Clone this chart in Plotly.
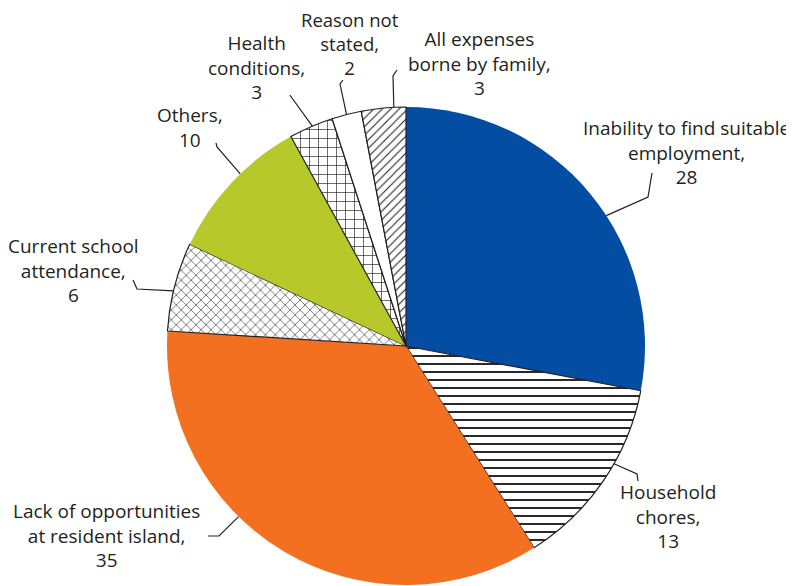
import math
import plotly.graph_objects as go

# ---- data ----
categories = [
    "Inability to find suitable employment",
    "Household chores",
    "Lack of opportunities at resident island",
    "Current school attendance",
    "Others",
    "Health conditions",
    "Reason not stated",
    "All expenses borne by family",
]
values = [28, 13, 35, 6, 10, 3, 2, 3]
label_texts = [
    "Inability to find suitable<br>employment,<br>28",
    "Household<br>chores,<br>13",
    "Lack of opportunities<br>at resident island,<br>35",
    "Current school<br>attendance,<br>6",
    "Others,<br>10",
    "Health<br>conditions,<br>3",
    "Reason not<br>stated,<br>2",
    "All expenses<br>borne by family,<br>3",
]

# ---- styles ----
OFF = 8  # page body margin
W, H = 794 - OFF, 586 - OFF
colors = ["#034ea2", "#ffffff", "#f37021", "#ffffff", "#b7c92a", "#ffffff", "#ffffff", "#ffffff"]
shapes_pat = ["", "-", "", "x", "", "+", "", "/"]
pat_size = [8, 8, 8, 7, 8, 9, 8, 6]
pat_sol = [0.3, 0.24, 0.3, 0.16, 0.3, 0.14, 0.3, 0.18]
line_w = [0, 1.2, 0, 1.2, 0, 1.2, 1.2, 1.2]
INK = "#231f20"

# pie geometry (screen pixels)
cx, cy, R = 406, 346, 239

# label layout (screen pixel centres), leader fraction within slice, elbow & end points
label_pos = [(686, 153), (668, 517), (107, 535), (73, 270), (190, 128), (257, 67), (350, 44), (479, 63)]
label_size = [19, 19, 19, 19, 19, 19, 18.5, 19]
leader_frac = [0.565, 0.40, 0.61, 0.45, 0.58, 0.53, 0.5, 0.73]
leader_pts = [
    [(648, 197), (652, 173)],
    [(637, 474), (638, 481)],
    [(219, 536), (208, 536)],
    [(137, 289), (133, 280)],
    [(217, 147), (216, 143)],
    [(292, 98), (290, 95)],
    [(340, 84), (343, 80)],
    [(393, 76), (397, 70)],
]


def px(x):
    return (x - OFF) / W


def py(y):
    return 1 - (y - OFF) / H


fig = go.Figure(
    go.Pie(
        labels=categories,
        values=values,
        sort=False,
        direction="clockwise",
        rotation=0,
        textinfo="none",
        hoverinfo="label+value",
        marker=dict(
            colors=colors,
            line=dict(color=INK, width=line_w),
            pattern=dict(
                shape=shapes_pat,
                size=pat_size,
                solidity=pat_sol,
                fgcolor=INK,
                bgcolor=colors,
                fillmode="replace",
            ),
        ),
        domain=dict(x=[px(cx - R), px(cx + R)], y=[py(cy + R), py(cy - R)]),
        showlegend=False,
    )
)

total = sum(values)
cum = 0
shapes = []
annotations = []
for i, v in enumerate(values):
    ang = 2 * math.pi * (cum + leader_frac[i] * v) / total
    sx = cx + R * math.sin(ang)
    sy = cy - R * math.cos(ang)
    pts = [(sx, sy)] + leader_pts[i]
    path = "M " + " L ".join(f"{px(x):.5f},{py(y):.5f}" for x, y in pts)
    shapes.append(dict(type="path", xref="paper", yref="paper", path=path,
                       line=dict(color=INK, width=1.2)))
    lx, ly = label_pos[i]
    annotations.append(dict(
        x=px(lx), y=py(ly), xref="paper", yref="paper",
        text=label_texts[i], showarrow=False, align="center",
        xanchor="center", yanchor="middle",
        font=dict(family="Open Sans", size=label_size[i], color=INK),
    ))
    cum += v

fig.update_layout(
    width=W, height=H, autosize=False,
    margin=dict(l=0, r=0, t=0, b=0),
    paper_bgcolor="white", plot_bgcolor="white",
    shapes=shapes, annotations=annotations,
)

fig.write_html("out.html")
